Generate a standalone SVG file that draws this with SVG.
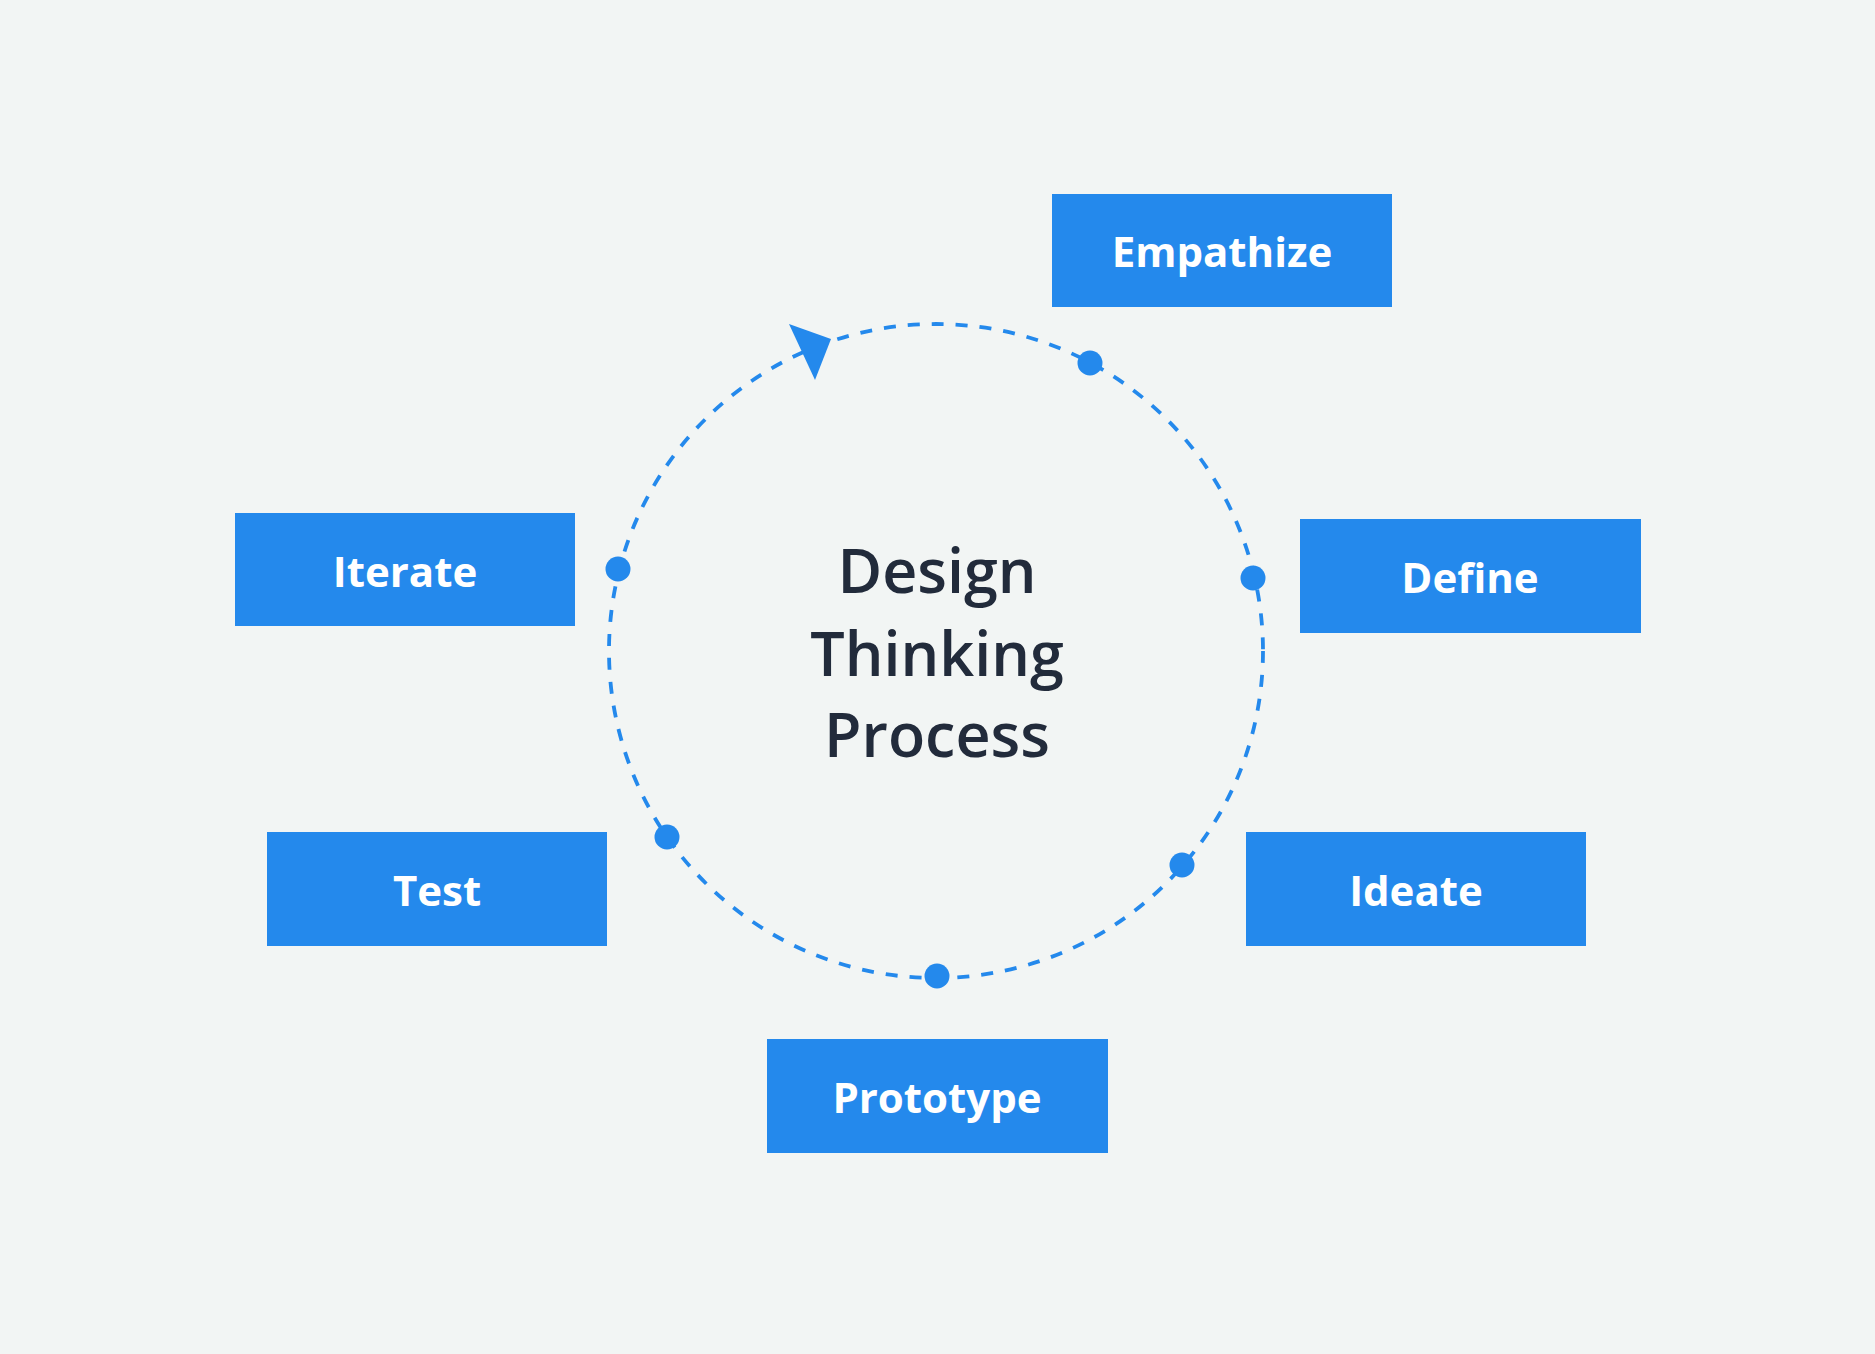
<svg xmlns="http://www.w3.org/2000/svg" width="1875" height="1354" viewBox="0 0 1875 1354">
  <style>
    .box { fill: #2489EC; }
    .label { fill: #FFFFFF; font-family: "Open Sans", "Noto Sans", sans-serif; font-weight: 700; font-size: 42px; text-anchor: middle; }
    .title { fill: #222B3B; font-family: "Open Sans", "Noto Sans", sans-serif; font-weight: 600; font-size: 61px; text-anchor: middle; }
    .ring { fill: none; stroke: #2489EC; stroke-width: 3.8; stroke-dasharray: 12 12; }
    .dot { fill: #2489EC; }
  </style>
  <rect x="0" y="0" width="1875" height="1354" fill="#F2F5F4"/>

  <g id="connectors">
    <circle class="ring" cx="936" cy="651" r="327"/>
    <polygon class="dot" points="789,324 831,339 815,380"/>
    <circle class="dot" cx="1090" cy="363" r="12.5"/>
    <circle class="dot" cx="1253" cy="578" r="12.5"/>
    <circle class="dot" cx="1182" cy="865" r="12.5"/>
    <circle class="dot" cx="937" cy="976" r="12.5"/>
    <circle class="dot" cx="667" cy="837" r="12.5"/>
    <circle class="dot" cx="618" cy="569" r="12.5"/>
  </g>

  <g id="center-title">
    <text class="title" x="937" y="593">Design</text>
    <text class="title" x="937" y="676">Thinking</text>
    <text class="title" x="937" y="757">Process</text>
  </g>

  <g id="node-empathize">
    <rect class="box" x="1052" y="194" width="340" height="113"/>
    <text class="label" x="1222" y="267">Empathize</text>
  </g>
  <g id="node-define">
    <rect class="box" x="1300" y="519" width="341" height="114"/>
    <text class="label" x="1470" y="593">Define</text>
  </g>
  <g id="node-ideate">
    <rect class="box" x="1246" y="832" width="340" height="114"/>
    <text class="label" x="1416" y="906">Ideate</text>
  </g>
  <g id="node-prototype">
    <rect class="box" x="767" y="1039" width="341" height="114"/>
    <text class="label" x="937" y="1113">Prototype</text>
  </g>
  <g id="node-test">
    <rect class="box" x="267" y="832" width="340" height="114"/>
    <text class="label" x="437" y="906">Test</text>
  </g>
  <g id="node-iterate">
    <rect class="box" x="235" y="513" width="340" height="113"/>
    <text class="label" x="405" y="587">Iterate</text>
  </g>
</svg>
